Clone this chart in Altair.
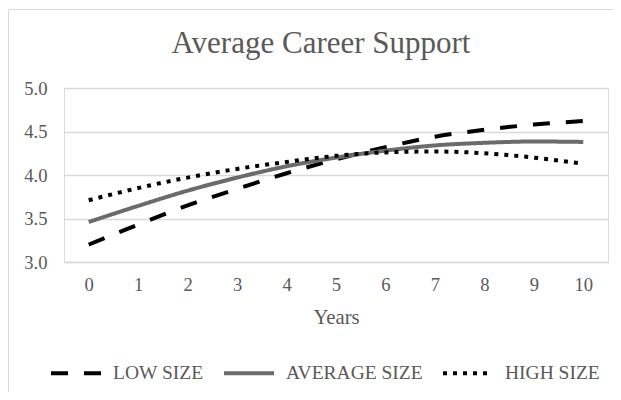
import altair as alt
import pandas as pd

years = list(range(11))
low_size = [3.20, 3.43, 3.65, 3.84, 4.02, 4.18, 4.32, 4.44, 4.52, 4.58, 4.62]
average_size = [3.46, 3.645, 3.82, 3.97, 4.10, 4.20, 4.28, 4.34, 4.37, 4.385, 4.38]
high_size = [3.71, 3.85, 3.97, 4.07, 4.15, 4.22, 4.26, 4.27, 4.25, 4.20, 4.13]
series_names = ["LOW SIZE", "AVERAGE SIZE", "HIGH SIZE"]
y_ticks = [3.0, 3.5, 4.0, 4.5, 5.0]

rows = []
for name, vals in zip(series_names, [low_size, average_size, high_size]):
    for yr, v in zip(years, vals):
        rows.append({"Years": yr, "Value": v, "Series": name})
df = pd.DataFrame(rows)

FONT = "Liberation Serif"
TXT = "#595959"
GRID = "#d9d9d9"

legend = alt.Legend(orient="none", legendX=-15, legendY=258,
                    direction="horizontal", columns=3,
                    title=None, symbolType="stroke",
                    symbolSize=2500, symbolStrokeWidth=4,
                    labelFont=FONT, labelFontSize=19.5,
                    labelColor=TXT, columnPadding=12,
                    labelOffset=10)

lines = alt.Chart(df).mark_line(strokeWidth=4, interpolate="monotone").encode(
    x=alt.X("Years:O", title="Years",
            scale=alt.Scale(type="point", padding=0.5),
            axis=alt.Axis(labelAngle=0, labelFont=FONT, labelFontSize=18.6,
                          labelColor=TXT, ticks=False, domainColor=GRID,
                          domainWidth=1.3, labelPadding=13,
                          titleFont=FONT, titleFontSize=20.7, titleColor=TXT,
                          titleFontWeight="normal", titlePadding=14)),
    y=alt.Y("Value:Q", title=None,
            scale=alt.Scale(domain=[3, 5], nice=False, zero=False),
            axis=alt.Axis(values=y_ticks, format=".1f", labelFont=FONT,
                          labelFontSize=18.6, labelColor=TXT, ticks=False,
                          domain=False, gridColor=GRID, gridWidth=1.3,
                          labelPadding=17)),
    color=alt.Color("Series:N",
                    scale=alt.Scale(domain=series_names,
                                    range=["#000000", "#6b6b6b", "#000000"]),
                    legend=legend),
    strokeDash=alt.StrokeDash("Series:N",
                              scale=alt.Scale(domain=series_names,
                                              range=[[17, 16], [1, 0], [4, 6]]),
                              legend=legend),
)

one = pd.DataFrame({"a": [0]})
left_border = alt.Chart(one).mark_rule(color=GRID, strokeWidth=1).encode(
    x=alt.value(-55.5), y=alt.value(-78), y2=alt.value(330))
top_border = alt.Chart(one).mark_rule(color=GRID, strokeWidth=1).encode(
    x=alt.value(-55.5), x2=alt.value(560), y=alt.value(-78.5))

chart = alt.layer(lines, left_border, top_border).properties(
    width=544, height=174,
    padding={"left": 56, "top": 80, "right": 5, "bottom": 130},
    autosize=alt.AutoSizeParams(type="none"),
    title=alt.TitleParams("Average Career Support", font=FONT, fontSize=31,
                          fontWeight="normal", color=TXT, anchor="middle",
                          baseline="alphabetic", offset=0, dx=-15, dy=75),
).configure_view(stroke=None).configure(background="white")

chart.save("out.html", embed_options={"renderer": "svg", "actions": False})
